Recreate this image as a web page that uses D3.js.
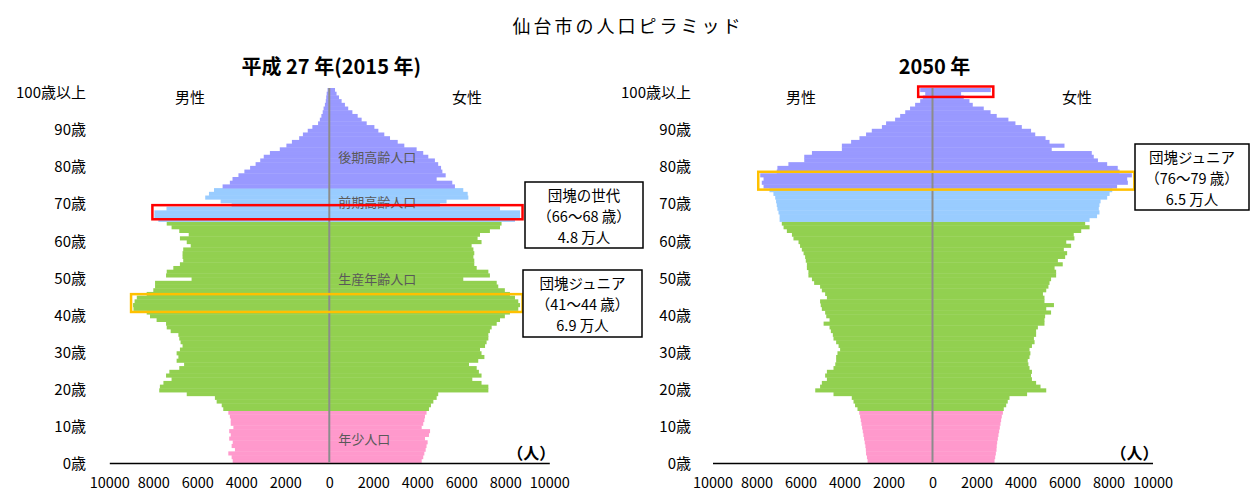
<!DOCTYPE html>
<html lang="ja">
<head>
<meta charset="utf-8">
<title>仙台市の人口ピラミッド</title>
<script src="https://cdn.jsdelivr.net/npm/d3@7"></script>
<style>
  html, body { margin: 0; padding: 0; background: #fff; }
  svg { display: block; font-family: "Noto Sans CJK JP", "Noto Sans", sans-serif; }
</style>
</head>
<body>
<svg id="chart" width="1250" height="492"></svg>
<script>
// ages 0..100 (100 = 100歳以上)
const ages = d3.range(0, 101);
const ageTicks = [0, 10, 20, 30, 40, 50, 60, 70, 80, 90, 100];
const ageTickLabels = ["0歳", "10歳", "20歳", "30歳", "40歳", "50歳", "60歳", "70歳", "80歳", "90歳", "100歳以上"];
const xTicks = [-10000, -8000, -6000, -4000, -2000, 0, 2000, 4000, 6000, 8000, 10000];

// population by single year of age, index = age
const male2015 = [
  4390, 4440, 4590, 4290, 4440, 4390, 4550, 4480, 4550, 4360,
  4480, 4480, 4520, 4590, 4820, 4890, 5120, 5200, 6480, 7730,
  7700, 7540, 7170, 7420, 7270, 6820, 6600, 6940, 6860, 6940,
  6790, 6670, 6760, 6820, 6860, 7210, 7390, 7420, 7850, 8150,
  8300, 8900, 8920, 8850, 8750, 8300, 8000, 7920, 7920, 6260,
  7420, 7390, 7090, 6790, 6640, 6670, 6670, 6640, 6300, 6480,
  6790, 6390, 6820, 7170, 7390, 7770, 7950, 7950, 7400, 4440,
  4940, 5640, 5470, 5240, 4850, 4520, 4400, 4130, 3860, 3600,
  3350, 3140, 2980, 2700, 2250, 1950, 1700, 1370, 1200, 980,
  770, 510, 430, 360, 300, 260, 200, 160, 140, 120,
  80
];
const female2015 = [
  4200, 4270, 4320, 4380, 4420, 4470, 4350, 4530, 4580, 4200,
  4270, 4320, 4350, 4420, 4530, 4620, 4730, 4880, 4950, 7230,
  7230, 6920, 6500, 6920, 6800, 6700, 6350, 6770, 7050, 6920,
  6850, 7080, 7150, 7230, 7230, 7300, 7380, 7610, 7760, 7980,
  8210, 8590, 8670, 8590, 8440, 8210, 7980, 7680, 7610, 6090,
  7300, 7230, 6700, 6590, 6590, 6550, 6590, 6550, 6470, 6920,
  6740, 6850, 7300, 7760, 7830, 8440, 8670, 8670, 7760, 5030,
  5330, 6320, 6290, 6090, 5710, 5590, 4880, 5290, 5140, 5080,
  4950, 4800, 4500, 4270, 3970, 3410, 3110, 2760, 2500, 2230,
  2050, 1700, 1470, 1290, 1050, 860, 710, 560, 440, 330,
  260
];
const male2050 = [
  2950, 2980, 3020, 3030, 3050, 3080, 3110, 3140, 3170, 3200,
  3230, 3260, 3290, 3330, 3410, 3520, 3590, 3670, 4500, 5330,
  5110, 5030, 4800, 4880, 4800, 4500, 4420, 4380, 4380, 4320,
  4200, 4270, 4380, 4500, 4530, 4620, 4680, 4950, 4680, 4830,
  4880, 5030, 5080, 5110, 4800, 4880, 5030, 5110, 5380, 5480,
  5640, 5640, 5710, 5710, 5760, 5790, 5860, 5940, 6020, 6090,
  6320, 6390, 6620, 6770, 6850, 6950, 6950, 7000, 7050, 7080,
  7110, 7150, 7230, 7410, 7680, 7760, 7680, 7830, 7080, 7050,
  6550, 5830, 5830, 5480, 4120, 4120, 3700, 3320, 3020, 2760,
  2300, 2110, 1700, 1470, 1240, 1020, 790, 560, 440, 330,
  560
];
const female2050 = [
  2820, 2850, 2880, 2910, 2920, 2940, 2970, 3000, 3030, 3060,
  3090, 3120, 3150, 3200, 3240, 3350, 3420, 3500, 4300, 5170,
  4910, 4710, 4520, 4480, 4520, 4410, 4360, 4330, 4410, 4450,
  4410, 4520, 4640, 4610, 4710, 4710, 4790, 5090, 5090, 5120,
  5390, 5170, 5520, 5090, 5090, 5020, 5170, 5270, 5320, 5390,
  5620, 5620, 5550, 5920, 5700, 6030, 6120, 5970, 6300, 6080,
  6450, 6420, 6760, 7140, 6940, 7140, 7480, 7590, 7560, 7590,
  7640, 7940, 8050, 8170, 8390, 8880, 8850, 9060, 8500, 8420,
  7940, 7520, 7330, 7240, 5420, 6000, 5320, 5140, 4670, 4480,
  4060, 3770, 3450, 2920, 2640, 2330, 1830, 1680, 1420, 1300,
  2650
];

// age groups (first age of each group as drawn)
const groupNames = ["年少人口", "生産年齢人口", "前期高齢人口", "後期高齢人口"];
const groupStart = [0, 14, 65, 74];
const groupColors = ["#ff99cc", "#92d050", "#99ccff", "#9999ff"];

const notes2015 = [
  { lines: ["団塊の世代", "（66～68 歳）", "4.8 万人"], rows: [66, 68], color: "#ff0000" },
  { lines: ["団塊ジュニア", "（41～44 歳）", "6.9 万人"], rows: [41, 44], color: "#ffc000" }
];
const notes2050 = [
  { lines: [], rows: [99, 100], color: "#ff0000" },
  { lines: ["団塊ジュニア", "（76～79 歳）", "6.5 万人"], rows: [74, 77], color: "#ffc000" }
];

const svg = d3.select("#chart");
const yTop = 88, yBottom = 462.5, halfW = 220;

svg.append("text")
  .attr("x", 628).attr("y", 25)
  .attr("text-anchor", "middle").attr("dominant-baseline", "central")
  .attr("font-size", 18).attr("letter-spacing", 3)
  .text("仙台市の人口ピラミッド");

function drawPyramid(opt) {
  const cx = opt.cx;
  const male = opt.male, female = opt.female;
  const x = d3.scaleLinear().domain([-10000, 10000]).range([cx - halfW, cx + halfW]);
  const y = d3.scaleBand().domain(ages).range([yBottom, yTop]);
  const bw = y.bandwidth();
  const color = a => groupColors[d3.bisectRight(groupStart, a) - 1];

  const g = svg.append("g");

  g.selectAll("rect.male").data(ages).join("rect")
    .attr("class", "male")
    .attr("x", a => x(-male[a]))
    .attr("y", a => y(a))
    .attr("width", a => x(0) - x(-male[a]))
    .attr("height", bw + 0.4)
    .attr("fill", color);

  g.selectAll("rect.female").data(ages).join("rect")
    .attr("class", "female")
    .attr("x", x(0))
    .attr("y", a => y(a))
    .attr("width", a => x(female[a]) - x(0))
    .attr("height", bw + 0.4)
    .attr("fill", color);

  // axis
  const ax = g.append("g")
    .attr("transform", `translate(0,${yBottom + 0.5})`)
    .call(d3.axisBottom(x).tickValues(xTicks).tickFormat(d => Math.abs(d)).tickSize(0).tickPadding(15));
  ax.select(".domain").attr("stroke", "#000").attr("stroke-width", 1.5);
  ax.selectAll("text").attr("font-size", 14.5).attr("fill", "#000")
    .attr("font-family", "'Noto Sans CJK JP', sans-serif");

  // center line
  g.append("line")
    .attr("x1", x(0)).attr("x2", x(0))
    .attr("y1", yTop).attr("y2", yBottom)
    .attr("stroke", "#8c8c8c").attr("stroke-width", 2);

  // age labels
  g.selectAll("text.age").data(ageTicks).join("text")
    .attr("class", "age")
    .attr("x", opt.labelX)
    .attr("y", (a) => y(a) + bw)
    .attr("text-anchor", "end").attr("dominant-baseline", "central")
    .attr("font-size", 15)
    .text((a, i) => ageTickLabels[i]);

  // titles
  g.append("text")
    .attr("x", cx + 2).attr("y", 65)
    .attr("text-anchor", "middle").attr("dominant-baseline", "central")
    .attr("font-size", 20).attr("font-weight", "bold")
    .text(opt.title);
  g.append("text").attr("x", opt.maleX).attr("y", 96)
    .attr("text-anchor", "middle").attr("dominant-baseline", "central")
    .attr("font-size", 15).text("男性");
  g.append("text").attr("x", opt.femaleX).attr("y", 96)
    .attr("text-anchor", "middle").attr("dominant-baseline", "central")
    .attr("font-size", 15).text("女性");
  g.append("text").attr("x", cx + 202).attr("y", 452)
    .attr("text-anchor", "middle").attr("dominant-baseline", "central")
    .attr("font-size", 16).attr("font-weight", "bold").text("（人）");

  // group names
  if (opt.groupLabels) {
    const labelAges = [6, 49, 70, 82];
    g.selectAll("text.grp").data(groupNames).join("text")
      .attr("class", "grp")
      .attr("x", x(0) + 9)
      .attr("y", (d, i) => y(labelAges[i]) + bw / 2)
      .attr("dominant-baseline", "central")
      .attr("font-size", 13).attr("fill", "#595959")
      .text(d => d);
  }

  // highlight frames
  opt.notes.forEach(n => {
    const rows = d3.range(n.rows[0], n.rows[1] + 1);
    const mMax = d3.max(rows, a => male[a]);
    const fMax = d3.max(rows, a => female[a]);
    const x0 = x(-mMax) - 2, x1 = x(fMax) + 2.5;
    const y0 = y(n.rows[1]) - 1.5, y1 = y(n.rows[0]) + bw + 1.5;
    g.append("rect")
      .attr("x", x0).attr("y", y0)
      .attr("width", x1 - x0).attr("height", y1 - y0)
      .attr("fill", "none").attr("stroke", n.color).attr("stroke-width", 2.5);
  });

  // callout boxes
  opt.boxes.forEach(b => {
    const n = opt.notes[b.note];
    g.append("rect")
      .attr("x", b.x).attr("y", b.y).attr("width", b.w).attr("height", b.h)
      .attr("fill", "#fff").attr("stroke", "#000").attr("stroke-width", 1.5);
    g.selectAll(null).data(n.lines).join("text")
      .attr("x", b.x + b.w / 2)
      .attr("y", (d, j) => b.y + 12.5 + j * 21)
      .attr("text-anchor", "middle").attr("dominant-baseline", "central")
      .attr("font-size", 14.5)
      .text(d => d);
  });
}

drawPyramid({
  cx: 329.3, male: male2015, female: female2015, title: "平成 27 年(2015 年)",
  labelX: 86, maleX: 190, femaleX: 467, groupLabels: true, notes: notes2015,
  boxes: [{ note: 0, x: 525, y: 182, w: 118, h: 66 }, { note: 1, x: 523, y: 270, w: 119, h: 67 }]
});
drawPyramid({
  cx: 932.5, male: male2050, female: female2050, title: "2050 年",
  labelX: 691, maleX: 801, femaleX: 1077, groupLabels: false, notes: notes2050,
  boxes: [{ note: 1, x: 1135, y: 144, w: 114, h: 66 }]
});
</script>
</body>
</html>
